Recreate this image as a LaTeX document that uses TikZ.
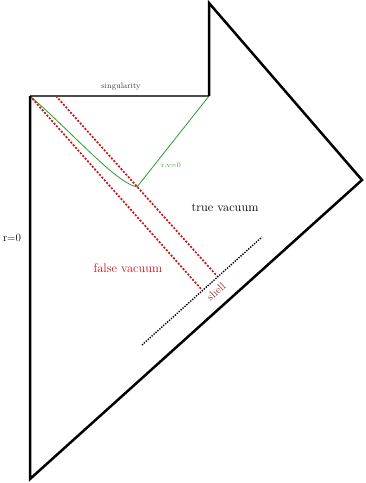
\documentclass[tikz,border=0pt]{standalone}
\usetikzlibrary{calc}
\definecolor{myred}{RGB}{200,20,20}
\definecolor{mygreen}{RGB}{40,160,40}
\definecolor{shellred}{RGB}{150,40,40}
\begin{document}
\begin{tikzpicture}[x=1pt,y=-1pt,
  outline/.style={line width=2.5pt,line join=miter},
  sing/.style={line width=2.8pt,black!70},
  reddash/.style={myred,line width=1.7pt,dash pattern=on 2pt off 1.6pt},
  shelldot/.style={line width=1.4pt,dash pattern=on 1.3pt off 1.3pt},
  greenline/.style={mygreen,line width=0.8pt},
  lab/.style={inner sep=0pt}]
\useasboundingbox (0,0) rectangle (365,483);
\coordinate (SL) at (30,96);
\coordinate (SR) at (209,96);
\coordinate (TOP) at (209,3);
\coordinate (RV) at (362,180);
\coordinate (BOT) at (30,479);
\coordinate (G) at (137,187);
\coordinate (R1a) at (30,96);
\coordinate (R1b) at (202,290);
\coordinate (R2a) at (56,96);
\coordinate (R2b) at (217,276);
\coordinate (D1) at (142,345);
\coordinate (D2) at (262,237);
% green
\draw[greenline] (SR) -- (G);
\draw[greenline] (SL) .. controls (75,135) and (115,182) .. (G);
% red dashed
\draw[reddash] (R1a) -- (R1b);
\draw[reddash] (R2a) -- (R2b);
% shell
\draw[shelldot] (D1) -- (D2);
% outline
\draw[sing] (SL) -- (SR);
\draw[outline] (SR) -- (TOP) -- (RV) -- (BOT) -- (SL);
% labels
\node[lab,black!75,font=\fontsize{8}{9}\selectfont] (ts) at (121,87) {singularity};
\node[lab,mygreen,font=\fontsize{7}{8}\selectfont] (tg) at (171,166) {r,v=0};
\node[lab,font=\fontsize{12.5}{14}\selectfont] (ttv) at (225,208) {true vacuum};
\node[lab,myred,font=\fontsize{12.5}{14}\selectfont] (tfv) at (128,268) {false vacuum};
\node[lab,font=\fontsize{11}{13}\selectfont] (tr) at (12,238) {r=0};
\node[lab,shellred,rotate=42,font=\fontsize{11}{13}\selectfont] (tsh) at (216,292) {shell};
\end{tikzpicture}
\end{document}
